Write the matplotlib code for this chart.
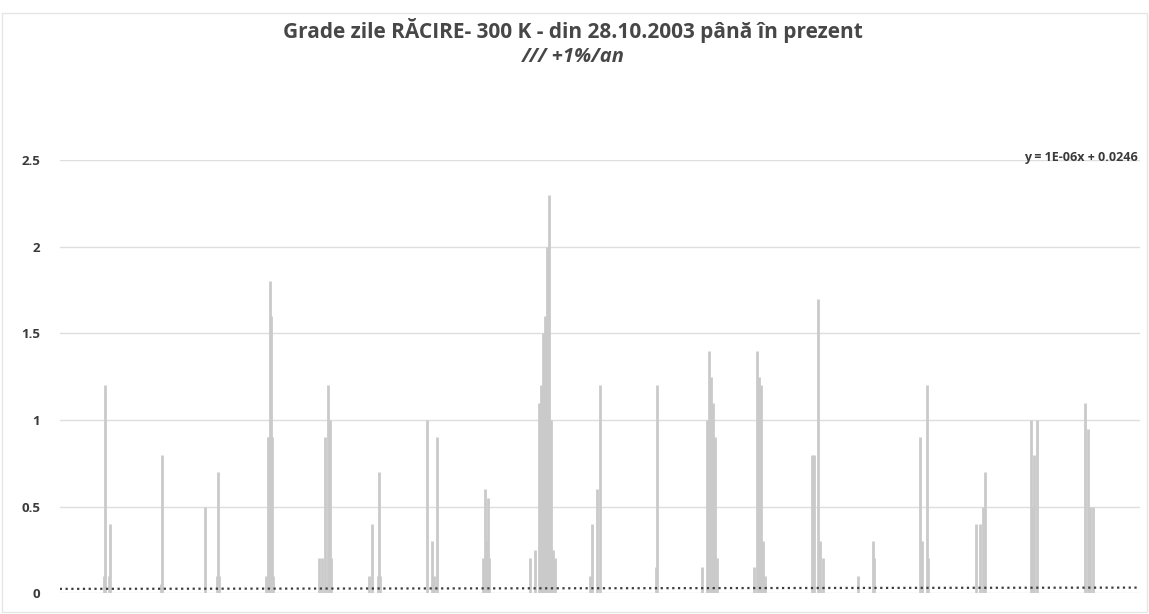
import numpy as np
import matplotlib
matplotlib.use("Agg")
import matplotlib.pyplot as plt
from matplotlib.patches import Rectangle

# daily cooling degree-days, base 300 K, since 28.10.2003 (day index, value); all other days are 0
n_days = 7300
spike_day = [300, 304, 335, 338,
             686, 690,
             980, 1060, 1068, 1075,
             1395, 1406, 1413, 1420, 1426, 1433, 1440,
             1750, 1771, 1790, 1812, 1825, 1835,
             2090, 2109, 2150, 2156, 2165,
             2481, 2515, 2530, 2549,
             2860, 2873, 2880, 2893, 2900,
             3180, 3210, 3240, 3250, 3265, 3280, 3295, 3306, 3320, 3335, 3346,
             3583, 3596, 3630, 3650,
             4030, 4036,
             4340, 4374, 4388, 4400, 4414, 4428, 4440,
             4690, 4712, 4725, 4740, 4755, 4765,
             5084, 5100, 5124, 5140, 5158,
             5394, 5496, 5505,
             5814, 5830, 5861, 5870,
             6192, 6220, 6240, 6253,
             6564, 6575, 6584, 6605,
             6929, 6950, 6965, 6983]
spike_val = [0.1, 1.2, 0.1, 0.4,
             0.05, 0.8,
             0.5, 0.1, 0.7, 0.1,
             0.1, 0.9, 0.9, 1.8, 1.6, 0.9, 0.1,
             0.2, 0.2, 0.9, 1.2, 1.0, 0.2,
             0.1, 0.4, 0.1, 0.7, 0.1,
             1.0, 0.3, 0.1, 0.9,
             0.2, 0.6, 0.3, 0.55, 0.2,
             0.2, 0.25, 1.1, 1.2, 1.5, 1.6, 2.0, 2.3, 1.0, 0.25, 0.2,
             0.1, 0.4, 0.6, 1.2,
             0.15, 1.2,
             0.15, 1.0, 1.4, 1.25, 1.1, 0.9, 0.2,
             0.15, 1.4, 1.25, 1.2, 0.3, 0.1,
             0.8, 0.8, 1.7, 0.3, 0.2,
             0.1, 0.3, 0.2,
             0.9, 0.3, 1.2, 0.2,
             0.4, 0.4, 0.5, 0.7,
             1.0, 0.5, 0.8, 1.0,
             1.1, 0.95, 0.5, 0.5]

# linear trend shown in the chart
slope = 1e-6
intercept = 0.0246

title = "Grade zile RĂCIRE- 300 K - din 28.10.2003 până în prezent"
subtitle = "/// +1%/an"
equation = "y = 1E-06x + 0.0246"
yticks = [0, 0.5, 1, 1.5, 2, 2.5]

plt.rcParams['font.family'] = ['Open Sans', 'DejaVu Sans']

fig = plt.figure(figsize=(11.49, 6.14), dpi=100)
ax = fig.add_axes([0.052, 0.034, 0.940, 0.705])

ax.vlines(spike_day, 0, spike_val, color='#cacaca', lw=2.0, zorder=2)

days = np.arange(n_days)
ax.plot(days, slope * days + intercept, color='#3c3c3c', lw=1.6,
        linestyle=(0, (1, 1.6)), zorder=3)

ax.set_xlim(0, n_days)
ax.set_ylim(0, 2.5)
ax.set_yticks(yticks)
ax.set_yticklabels(["0", "0.5", "1", "1.5", "2", "2.5"],
                   fontsize=9.5, fontweight='bold', color='#3a3a3a')
ax.set_xticks([])
ax.tick_params(axis='y', length=0, pad=14)
ax.grid(axis='y', color='#dedede', lw=1.0, zorder=0)
for s in ax.spines.values():
    s.set_visible(False)

fig.text(0.499, 0.951, title, ha='center', va='center', fontsize=15,
         fontweight='bold', color='#474747')
fig.text(0.499, 0.907, subtitle, ha='center', va='center', fontsize=14.5,
         fontweight='bold', style='italic', color='#474747')
fig.text(0.990, 0.744, equation, ha='right', va='center', fontsize=9,
         fontweight='bold', color='#3a3a3a')

fig.patches.append(Rectangle((0.002, 0.004), 0.996, 0.975, transform=fig.transFigure,
                             fill=False, edgecolor='#e6e6e6', lw=1.0))

fig.savefig("out.png", dpi=100)
